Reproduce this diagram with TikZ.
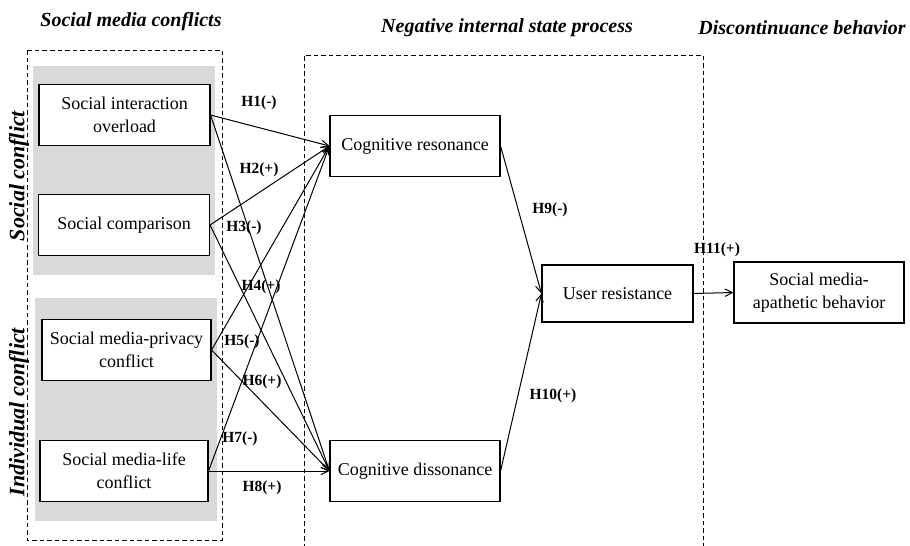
\documentclass[tikz,border=0pt]{standalone}
\usepackage{fontspec}
\setmainfont{Liberation Serif}
\usetikzlibrary{positioning,arrows.meta}
\definecolor{shd}{RGB}{217,217,217}

\begin{document}
\begin{tikzpicture}[x=1pt,y=-1pt,>={Straight Barb[length=2.6mm,width=2.6mm]},
  box/.style={draw,line width=1.1pt,fill=white,minimum width=171pt,minimum height=61pt,inner sep=2pt,align=center,font=\fontsize{18}{23}\selectfont},
  ttl/.style={font=\fontsize{20}{24}\selectfont\bfseries\itshape},
  side/.style={rotate=90,font=\fontsize{22}{26}\selectfont\bfseries\itshape},
  hyp/.style={font=\fontsize{15.5}{18}\selectfont\bfseries,inner sep=0pt},
  grp/.style={dashed,dash pattern=on 4.5pt off 3pt,line width=0.9pt},
  lnk/.style={->,line width=1pt}]
  \useasboundingbox (0,0) rectangle (910,546);
  % frames
  \fill[shd] (33,66) rectangle (215,275);
  \fill[shd] (35,298) rectangle (217,521);
  \draw[grp] (27,50) rectangle (222,540);
  \draw[grp] (304,548)--(304,55)--(703,55)--(703,548);
  \node[ttl] (tconf) at (131,22) {Social media conflicts};
  \node[ttl] (tneg) at (507,28) {Negative internal state process};
  \node[ttl] (tdis) at (802,28) {Discontinuance behavior};
  \node[side] (ssoc) at (19,176) {Social conflict};
  \node[side] (sind) at (19,412) {Individual conflict};
  % constructs
  \node[box] (sio) at (124.5,115) {Social interaction\\overload};
  \node[box] (scm) at (124,225) {Social comparison};
  \node[box,minimum width=169pt] (smp) at (126.5,350) {Social media-privacy\\conflict};
  \node[box,minimum width=168pt] (sml) at (124,471) {Social media-life\\conflict};
  \node[box,minimum width=170pt] (cres) at (415,146) {Cognitive resonance};
  \node[box,minimum width=170pt] (cdis) at (415,471) {Cognitive dissonance};
  \node[box,minimum width=151pt,minimum height=57pt] (ures) at (617.5,293.5) {User resistance};
  \node[box,minimum width=170pt] (apb) at (819,292.5) {Social media-\\apathetic behavior};
  % paths
  \draw[lnk] (sio.east)--(cres.west); \draw[lnk] (sio.east)--(cdis.west);
  \draw[lnk] (scm.east)--(cres.west); \draw[lnk] (scm.east)--(cdis.west);
  \draw[lnk] (smp.east)--(cres.west); \draw[lnk] (smp.east)--(cdis.west);
  \draw[lnk] (sml.east)--(cres.west); \draw[lnk] (sml.east)--(cdis.west);
  \draw[lnk] (cres.east)--(ures.west); \draw[lnk] (cdis.east)--(ures.west);
  \draw[lnk] (ures.east)--(apb.west);
  \node[hyp] (h1) at (259,103) {H1(-)};
  \node[hyp] (h2) at (259,170) {H2(+)};
  \node[hyp] (h3) at (244,228) {H3(-)};
  \node[hyp] (h4) at (261,287) {H4(+)};
  \node[hyp] (h5) at (242,342) {H5(-)};
  \node[hyp] (h6) at (262,382) {H6(+)};
  \node[hyp] (h7) at (240,439) {H7(-)};
  \node[hyp] (h8) at (262,488) {H8(+)};
  \node[hyp] (h9) at (550,210) {H9(-)};
  \node[hyp] (h10) at (553,396) {H10(+)};
  \node[hyp] (h11) at (717,250) {H11(+)};
\end{tikzpicture}
\end{document}
